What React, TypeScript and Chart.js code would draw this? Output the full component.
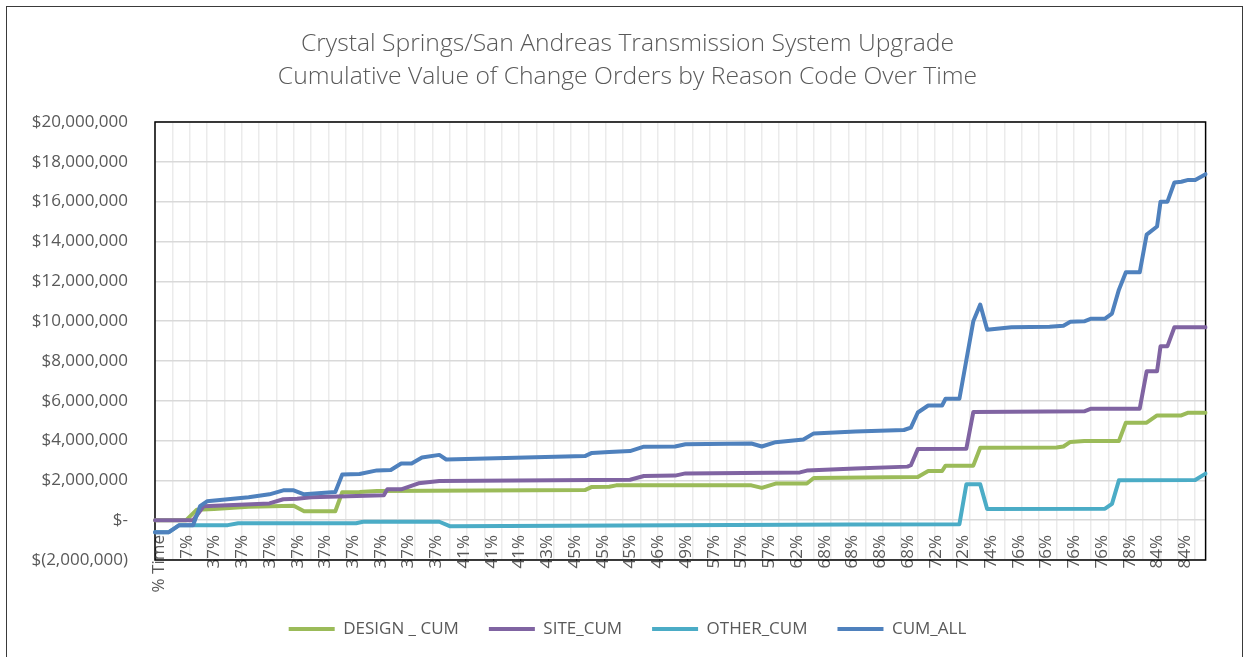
import React, { useEffect, useRef } from 'react';
import { Chart, registerables } from 'chart.js';

Chart.register(...registerables);

const TITLE = [
  'Crystal Springs/San Andreas Transmission System Upgrade',
  'Cumulative Value of Change Orders by Reason Code Over Time',
];

// number of time-ordered change-order records (categories)
const CATEGORY_COUNT = 304;
const LABEL_EVERY = 8;
const GRID_EVERY = 5;

// labels shown on the category axis (every 8th record)
const tickLabels = [
  '% Time', '7%',
  '37%', '37%', '37%', '37%', '37%', '37%', '37%', '37%', '37%',
  '41%', '41%', '41%', '43%', '45%', '45%', '45%', '46%', '49%',
  '57%', '57%', '57%', '62%', '68%', '68%', '68%', '68%',
  '72%', '72%', '74%', '76%', '76%', '76%', '76%', '78%', '84%', '84%',
];

// [record index, cumulative value $] read at the break points of each line
const designCum: [number, number][] = [
  [0, 0], [9, 0], [12, 520000], [17, 560000], [27, 680000], [40, 720000], [43, 450000],
  [52, 450000], [54, 1400000], [59, 1420000], [64, 1470000], [124, 1510000], [126, 1670000],
  [131, 1680000], [133, 1750000], [172, 1750000], [175, 1620000], [179, 1840000], [188, 1840000],
  [190, 2120000], [220, 2170000], [223, 2470000], [227, 2470000], [228, 2740000], [236, 2740000],
  [238, 3640000], [260, 3650000], [262, 3700000], [264, 3930000], [268, 3980000], [278, 3980000],
  [280, 4900000], [286, 4900000], [289, 5260000], [296, 5260000], [298, 5400000], [303, 5400000],
];

const siteCum: [number, number][] = [
  [0, 0], [11, 0], [14, 700000], [33, 840000], [37, 1050000], [41, 1080000], [45, 1150000],
  [66, 1250000], [67, 1550000], [71, 1550000], [76, 1850000], [82, 1970000], [137, 2030000],
  [141, 2220000], [150, 2240000], [153, 2350000], [186, 2400000], [188, 2490000], [202, 2590000],
  [217, 2690000], [218, 2760000], [220, 3570000], [234, 3590000], [236, 5430000], [268, 5470000],
  [270, 5600000], [284, 5600000], [286, 7480000], [289, 7480000], [290, 8740000], [292, 8740000],
  [294, 9690000], [303, 9690000],
];

const otherCum: [number, number][] = [
  [0, -600000], [4, -600000], [7, -250000], [21, -250000], [24, -150000], [58, -150000],
  [60, -80000], [82, -80000], [85, -300000], [150, -250000], [200, -220000], [232, -200000],
  [234, 1800000], [238, 1800000], [240, 560000], [274, 580000], [276, 820000], [278, 2000000],
  [300, 2020000], [303, 2340000],
];

const cumAll: [number, number][] = [
  [0, -600000], [4, -600000], [7, -250000], [11, -250000], [13, 700000], [15, 950000],
  [27, 1150000], [33, 1300000], [37, 1500000], [40, 1500000], [43, 1300000], [52, 1420000],
  [54, 2300000], [59, 2320000], [64, 2500000], [68, 2520000], [71, 2850000], [74, 2850000],
  [77, 3150000], [82, 3280000], [84, 3050000], [124, 3220000], [126, 3380000], [131, 3420000],
  [137, 3470000], [141, 3690000], [150, 3700000], [153, 3810000], [172, 3850000], [175, 3700000],
  [179, 3920000], [187, 4050000], [190, 4360000], [202, 4450000], [216, 4530000], [218, 4650000],
  [220, 5410000], [223, 5760000], [227, 5760000], [228, 6100000], [232, 6100000], [236, 9990000],
  [238, 10830000], [240, 9570000], [247, 9690000], [258, 9710000], [262, 9770000], [264, 9970000],
  [268, 9990000], [270, 10120000], [274, 10120000], [276, 10380000], [278, 11580000],
  [280, 12450000], [284, 12450000], [286, 14340000], [289, 14750000], [290, 16000000],
  [292, 16000000], [294, 16960000], [296, 17000000], [298, 17090000], [300, 17090000],
  [303, 17380000],
];

const seriesNames = ['DESIGN _ CUM', 'SITE_CUM', 'OTHER_CUM', 'CUM_ALL'];
const seriesColors = ['#9BBB59', '#8064A2', '#4BACC6', '#4F81BD'];
const seriesPoints = [designCum, siteCum, otherCum, cumAll];

const Y_MIN = -2000000;
const Y_MAX = 20000000;
const Y_STEP = 2000000;

const FONT = 'Open Sans';
const TEXT_COLOR = '#595959';
const TICK_FONT_SIZE = 17;
const TICK_LINE_HEIGHT = 1.2;

function toSeries(points: [number, number][]) {
  const arr: (number | null)[] = new Array(CATEGORY_COUNT).fill(null);
  points.forEach(([i, v]) => {
    arr[i] = v;
  });
  return arr;
}

function formatMoney(v: number) {
  if (v === 0) return '$-';
  const s = Math.abs(v).toLocaleString('en-US');
  return v < 0 ? `$(${s})` : `$${s}`;
}

const plotBorder = {
  id: 'plotBorder',
  beforeDatasetsDraw(chart: any) {
    const { ctx, chartArea } = chart;
    ctx.save();
    ctx.strokeStyle = '#000000';
    ctx.lineWidth = 1.5;
    ctx.strokeRect(chartArea.left, chartArea.top, chartArea.right - chartArea.left, chartArea.bottom - chartArea.top);
    ctx.restore();
  },
};

export default function App() {
  const canvasRef = useRef<HTMLCanvasElement | null>(null);

  useEffect(() => {
    if (!canvasRef.current) return;
    const categories = Array.from({ length: CATEGORY_COUNT }, (_, i) =>
      i % LABEL_EVERY === 0 ? tickLabels[i / LABEL_EVERY] ?? '' : ''
    );
    const chart = new Chart(canvasRef.current, {
      type: 'line',
      data: {
        labels: categories,
        datasets: seriesNames.map((name, k) => ({
          label: name,
          data: toSeries(seriesPoints[k]),
          borderColor: seriesColors[k],
          backgroundColor: seriesColors[k],
          borderWidth: 4,
          borderCapStyle: 'round' as const,
          borderJoinStyle: 'round' as const,
          pointRadius: 0,
          pointHoverRadius: 0,
          tension: 0,
          spanGaps: true,
          fill: false,
          order: seriesNames.length - k,
        })),
      },
      options: {
        animation: false,
        responsive: false,
        events: [],
        layout: { padding: { left: 27, right: 23, top: 0, bottom: 9.5 } },
        plugins: {
          title: {
            display: true,
            text: TITLE,
            color: TEXT_COLOR,
            font: { family: FONT, size: 24.7, weight: '300' as any, lineHeight: 33 / 24.7 },
            padding: { top: 27.5, bottom: 28.5 },
          },
          legend: {
            position: 'bottom',
            labels: {
              usePointStyle: true,
              pointStyle: 'line',
              pointStyleWidth: 46,
              padding: 30,
              color: TEXT_COLOR,
              font: { family: FONT, size: 17 },
              sort: (a: any, b: any) => a.datasetIndex - b.datasetIndex,
            },
          },
          tooltip: { enabled: false },
        },
        scales: {
          x: {
            type: 'category',
            offset: false,
            border: { display: false },
            grid: {
              color: (c: any) => (c.index % GRID_EVERY === 0 ? '#EBEBEB' : 'rgba(0,0,0,0)'),
              lineWidth: 1.5,
              drawTicks: false,
            },
            ticks: {
              autoSkip: false,
              minRotation: 90,
              maxRotation: 90,
              mirror: true,
              padding: 25,
              labelOffset: 4 + TICK_FONT_SIZE * TICK_LINE_HEIGHT,
              color: TEXT_COLOR,
              font: { family: FONT, size: TICK_FONT_SIZE, lineHeight: TICK_LINE_HEIGHT },
            },
            afterFit: (s: any) => {
              s.height = 30.5;
            },
          },
          y: {
            min: Y_MIN,
            max: Y_MAX,
            border: { display: false },
            grid: { color: '#D9D9D9', lineWidth: 1.5, drawTicks: false },
            ticks: {
              stepSize: Y_STEP,
              padding: 27,
              color: TEXT_COLOR,
              font: { family: FONT, size: TICK_FONT_SIZE },
              callback: (v: any) => formatMoney(Number(v)),
            },
            afterFit: (s: any) => {
              s.width = 155 - 27;
            },
          },
        },
      },
      plugins: [plotBorder],
    });
    return () => chart.destroy();
  }, []);

  return (
    <div style={{ position: 'fixed', left: 0, top: 0, width: 1251, height: 657, background: '#ffffff' }}>
      <div
        style={{
          position: 'absolute',
          left: 6,
          top: 6,
          width: 1237,
          height: 700,
          border: '1px solid #3a3a3a',
          boxSizing: 'border-box',
        }}
      />
      <canvas ref={canvasRef} width={1251} height={657} style={{ position: 'absolute', left: 0, top: 0, width: 1251, height: 657 }} />
    </div>
  );
}
